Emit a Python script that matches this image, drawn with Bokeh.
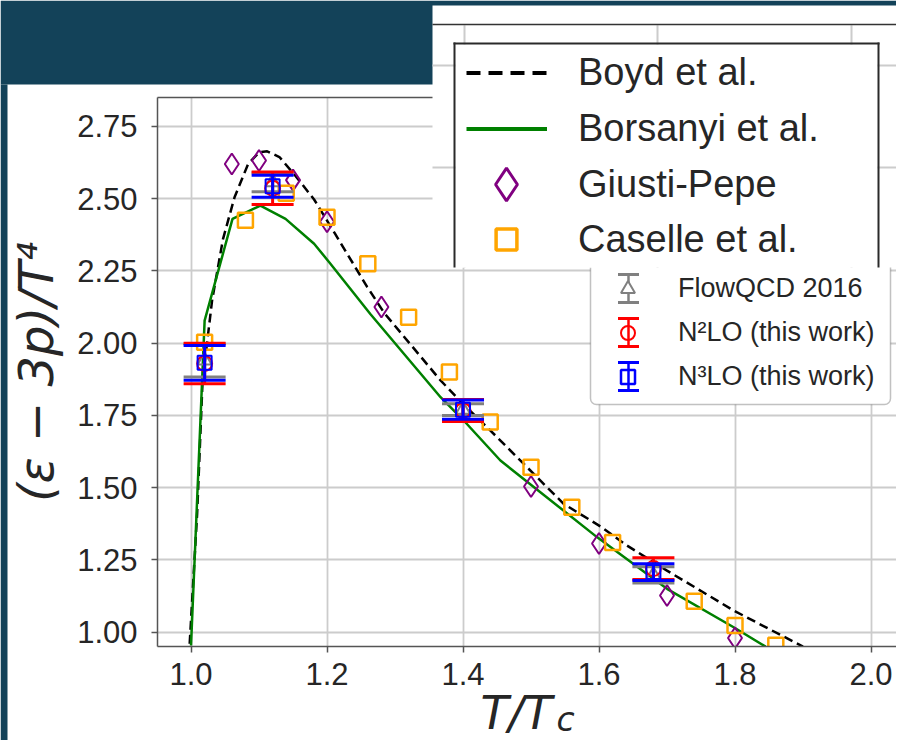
import math
import numpy as np
from bokeh.plotting import figure
from bokeh.models import Range1d, FixedTicker, LinearAxis, BoxAnnotation, Legend, LegendItem, Label
from bokeh.core.properties import value
from bokeh.embed import file_html
from bokeh.resources import INLINE

# ---------------- data ----------------
boyd_T = [0.998, 1.009, 1.017, 1.031, 1.047, 1.064, 1.084, 1.100, 1.112, 1.130, 1.154, 1.181,
          1.212, 1.259, 1.284, 1.367, 1.400, 1.450, 1.548, 1.602, 1.641, 1.700, 1.798, 1.900]
boyd_v = [0.96, 1.41, 1.87, 2.148, 2.36, 2.505, 2.62, 2.660, 2.664, 2.644, 2.578, 2.497,
          2.378, 2.195, 2.105, 1.871, 1.790, 1.675, 1.444, 1.366, 1.300, 1.213, 1.075, 0.950]

bors_T = [1.000, 1.020, 1.061, 1.102, 1.139, 1.181, 1.205, 1.264, 1.367, 1.400, 1.455,
          1.597, 1.700, 1.798, 1.845]
bors_v = [0.954, 2.078, 2.430, 2.476, 2.430, 2.344, 2.275, 2.100, 1.813, 1.735, 1.594,
          1.329, 1.150, 1.017, 0.950]

giusti_T = [1.06, 1.10, 1.15, 1.20, 1.28, 1.50, 1.60, 1.70, 1.80]
giusti_v = [2.620, 2.632, 2.564, 2.420, 2.125, 1.504, 1.307, 1.127, 0.980]

caselle_T = [1.02, 1.08, 1.14, 1.20, 1.26, 1.32, 1.38, 1.44, 1.50, 1.56, 1.62, 1.74, 1.80, 1.86]
caselle_v = [2.003, 2.425, 2.519, 2.436, 2.275, 2.090, 1.900, 1.727, 1.571, 1.432, 1.310,
             1.107, 1.023, 0.955]

lat_T = [1.02, 1.12, 1.40, 1.68]
flow_v = [1.940, 2.557, 1.770, 1.198]
flow_err = [0.057, 0.033, 0.020, 0.028]
n2lo_v = [1.930, 2.536, 1.767, 1.220]
n2lo_err = [0.070, 0.056, 0.038, 0.038]
n3lo_v = [1.932, 2.543, 1.770, 1.208]
n3lo_err = [0.060, 0.038, 0.033, 0.029]

x_ticks = [1.0, 1.2, 1.4, 1.6, 1.8, 2.0]
x_tick_labels = ["1.0", "1.2", "1.4", "1.6", "1.8", "2.0"]
y_ticks = [1.0, 1.25, 1.5, 1.75, 2.0, 2.25, 2.5, 2.75]
y_tick_labels = ["1.00", "1.25", "1.50", "1.75", "2.00", "2.25", "2.50", "2.75"]

upper_labels = ["Boyd et al.", "Borsanyi et al.", "Giusti-Pepe", "Caselle et al."]
lower_labels = ["FlowQCD 2016", "N\u00b2LO (this work)", "N\u00b3LO (this work)"]
y_title = "(\u03b5 \u2212 3p)/T\u2074"

# ---------------- main figure ----------------
W, H = 896, 740
FL, FT, FB = 157, 97, 646  # frame left / top / bottom (px)
NAVY = "#134259"
TXT = "#262626"
AX = "#555555"

p = figure(width=W, height=H, output_backend="svg", toolbar_location=None,
           x_range=Range1d(0.9507, 2.0375), y_range=Range1d(0.9505, 2.850),
           min_border_left=FL, min_border_right=0, min_border_top=FT, min_border_bottom=H - FB,
           background_fill_color="white", border_fill_color="white", outline_line_color=None)

xa = p.below[0]
ya = p.left[0]
xa.ticker = FixedTicker(ticks=x_ticks)
ya.ticker = FixedTicker(ticks=y_ticks)
xa.major_label_overrides = dict(zip(x_ticks, x_tick_labels))
ya.major_label_overrides = dict(zip(y_ticks, y_tick_labels))
for ax, so in ((xa, 10), (ya, 14)):
    ax.minor_tick_line_color = None
    ax.major_tick_in = 0
    ax.major_tick_out = 6
    ax.major_tick_line_color = AX
    ax.major_tick_line_width = 1.5
    ax.axis_line_color = AX
    ax.axis_line_width = 1.5
    ax.major_label_text_font = "Liberation Sans"
    ax.major_label_text_font_size = "31px"
    ax.major_label_text_color = TXT
    ax.major_label_standoff = so

ya.axis_label = y_title
ya.axis_label_text_font = "DejaVu Sans"
ya.axis_label_text_font_style = "italic"
ya.axis_label_text_font_size = "48px"
ya.axis_label_text_color = TXT
ya.axis_label_standoff = 10

top_axis = LinearAxis(ticker=FixedTicker(ticks=[]), major_tick_line_color=None,
                      minor_tick_line_color=None, major_label_text_font_size="0px",
                      axis_line_color=AX, axis_line_width=1.5)
p.add_layout(top_axis, "above")

p.grid.grid_line_color = "#cccccc"
p.grid.grid_line_width = 1.8

p.line(boyd_T, boyd_v, line_color="black", line_width=2.5, line_dash="9 5")
p.line(bors_T, bors_v, line_color="#008000", line_width=2.5)
p.scatter(giusti_T, giusti_v, marker="diamond", size=21, fill_color=None,
          line_color="#800080", line_width=2)
p.scatter(caselle_T, caselle_v, marker="square", size=15, fill_color=None,
          line_color="#ffa500", line_width=2.5)

series = [(flow_v, flow_err, "#808080", "triangle", 14),
          (n2lo_v, n2lo_err, "#ff0000", "circle", 15),
          (n3lo_v, n3lo_err, "#0000ff", "square", 14)]
for vals, errs, col, mk, sz in series:
    lo = [v - e for v, e in zip(vals, errs)]
    hi = [v + e for v, e in zip(vals, errs)]
    p.segment(x0=lat_T, y0=lo, x1=lat_T, y1=hi, line_color=col, line_width=3)
    p.scatter(lat_T + lat_T, lo + hi, marker="dash", size=42, line_color=col, line_width=3)
    p.scatter(lat_T, vals, marker=mk, size=sz, fill_color=None, line_color=col, line_width=2)

# ---------------- transparent overlay figure (slide background, legends, x title) -------------
q = figure(width=W, height=H, output_backend="svg", toolbar_location=None,
           x_range=Range1d(0, W), y_range=Range1d(H, 0), x_axis_type=None, y_axis_type=None,
           min_border=0, min_border_left=0, min_border_right=0, min_border_top=0,
           min_border_bottom=0, outline_line_color=None,
           background_fill_alpha=0, border_fill_alpha=0)
q.margin = (-H, 0, 0, 0)

no_point = np.array([np.nan])  # legend proxies draw nothing in the plot area


def cbox(l, r, t, b, fill, level, line_color=None, line_width=0, **kw):
    bx = BoxAnnotation(left=l, right=r, top=t, bottom=b,
                       left_units="canvas", right_units="canvas",
                       top_units="canvas", bottom_units="canvas",
                       fill_color=fill, fill_alpha=1.0, line_color=line_color,
                       line_width=line_width, level=level, **kw)
    q.add_layout(bx)
    return bx


# slide background (top band and thin left edge)
cbox(0, W, 0, 84, NAVY, "annotation")
cbox(0, 7, 84, H, NAVY, "annotation")

# lower legend (main figure)
cbox(590, 890, 248, 404, "white", "annotation", line_color="#333333", line_width=1.5,
     border_radius=6)
rows = [288, 332, 376]
leg_cols = ["#808080", "#ff0000", "#0000ff"]
for yc, col in zip(rows, leg_cols):
    cbox(626.75, 629.25, yc - 14, yc + 14, col, "annotation")
    cbox(617.5, 638.5, yc - 15.5, yc - 12.5, col, "annotation")
    cbox(617.5, 638.5, yc + 12.5, yc + 15.5, col, "annotation")

lg_flow = q.scatter(no_point, no_point, marker="triangle", fill_color="white",
                    line_color="#808080", line_width=2)
lg_n2 = q.scatter(no_point, no_point, marker="circle", fill_color=None,
                  line_color="#ff0000", line_width=2)
lg_n3 = q.scatter(no_point, no_point, marker="square", fill_color=None,
                  line_color="#0000ff", line_width=2.5)
low_leg = Legend(items=[LegendItem(label=value(lower_labels[0]), renderers=[lg_flow]),
                        LegendItem(label=value(lower_labels[1]), renderers=[lg_n2]),
                        LegendItem(label=value(lower_labels[2]), renderers=[lg_n3])],
                 location=(610, H - 393.5), glyph_width=35, glyph_height=35, label_height=35,
                 spacing=9, label_standoff=33, padding=0, margin=0,
                 border_line_color=None, background_fill_alpha=0,
                 label_text_font="Liberation Sans", label_text_font_size="27px",
                 label_text_color=TXT)
q.add_layout(low_leg, "center")

# overlapping upper panel (second figure of the slide)
cbox(432, W, 5, 267, "white", "overlay")
for y0 in (65, 167):
    cbox(432, W, y0 - 1, y0 + 1, "#cccccc", "overlay")
for x0 in (464, 657, 851):
    cbox(x0 - 1, x0 + 1, 24.75, 267, "#cccccc", "overlay")
cbox(432, W, 23.25, 24.75, "#333333", "overlay")
cbox(455, 877, 44, 267, "white", "overlay")
cbox(453, 879, 42, 44, "#2a2a2a", "overlay")
cbox(453, 455, 42, 267, "#2a2a2a", "overlay")
cbox(877, 879, 42, 267, "#2a2a2a", "overlay")

lg_boyd = q.line(no_point, no_point, line_color="black", line_width=4, line_dash="14 8")
lg_bors = q.line(no_point, no_point, line_color="#008000", line_width=4)
lg_gp = q.scatter(no_point, no_point, marker="diamond", fill_color=None,
                  line_color="#800080", line_width=3)
lg_cas = q.scatter(no_point, no_point, marker="square", fill_color=None,
                   line_color="#ffa500", line_width=3.5)

upper_specs = [  # renderer, label, glyph x0, row centre, glyph w, glyph h
    (lg_boyd, upper_labels[0], 466, 72.7, 81, 47),
    (lg_bors, upper_labels[1], 466, 128.3, 81, 47),
    (lg_gp, upper_labels[2], 465, 184.3, 82, 82),
    (lg_cas, upper_labels[3], 480, 239.3, 52, 52),
]
for rend, lab, x0, yc, gw, gh in upper_specs:
    lg = Legend(items=[LegendItem(label=value(lab), renderers=[rend])],
                location=(x0, H - (yc + gh / 2)), glyph_width=gw, glyph_height=gh,
                label_height=gh, label_standoff=578 - (x0 + gw), padding=0, margin=0,
                border_line_color=None, background_fill_alpha=0,
                label_text_font="Liberation Sans", label_text_font_size="38px",
                label_text_color=TXT, level="overlay")
    q.add_layout(lg, "center")

# x-axis title
q.add_layout(Label(x=480, y=712, x_units="canvas", y_units="canvas", text="T/T",
                   text_font="DejaVu Sans", text_font_style="italic", text_font_size="46px",
                   text_color=TXT, text_align="left", text_baseline="alphabetic"))
q.add_layout(Label(x=556, y=719, x_units="canvas", y_units="canvas", text="c",
                   text_font="DejaVu Sans", text_font_style="italic", text_font_size="33px",
                   text_color=TXT, text_align="left", text_baseline="alphabetic"))

open("out.html", "w").write(file_html([p, q], INLINE))
